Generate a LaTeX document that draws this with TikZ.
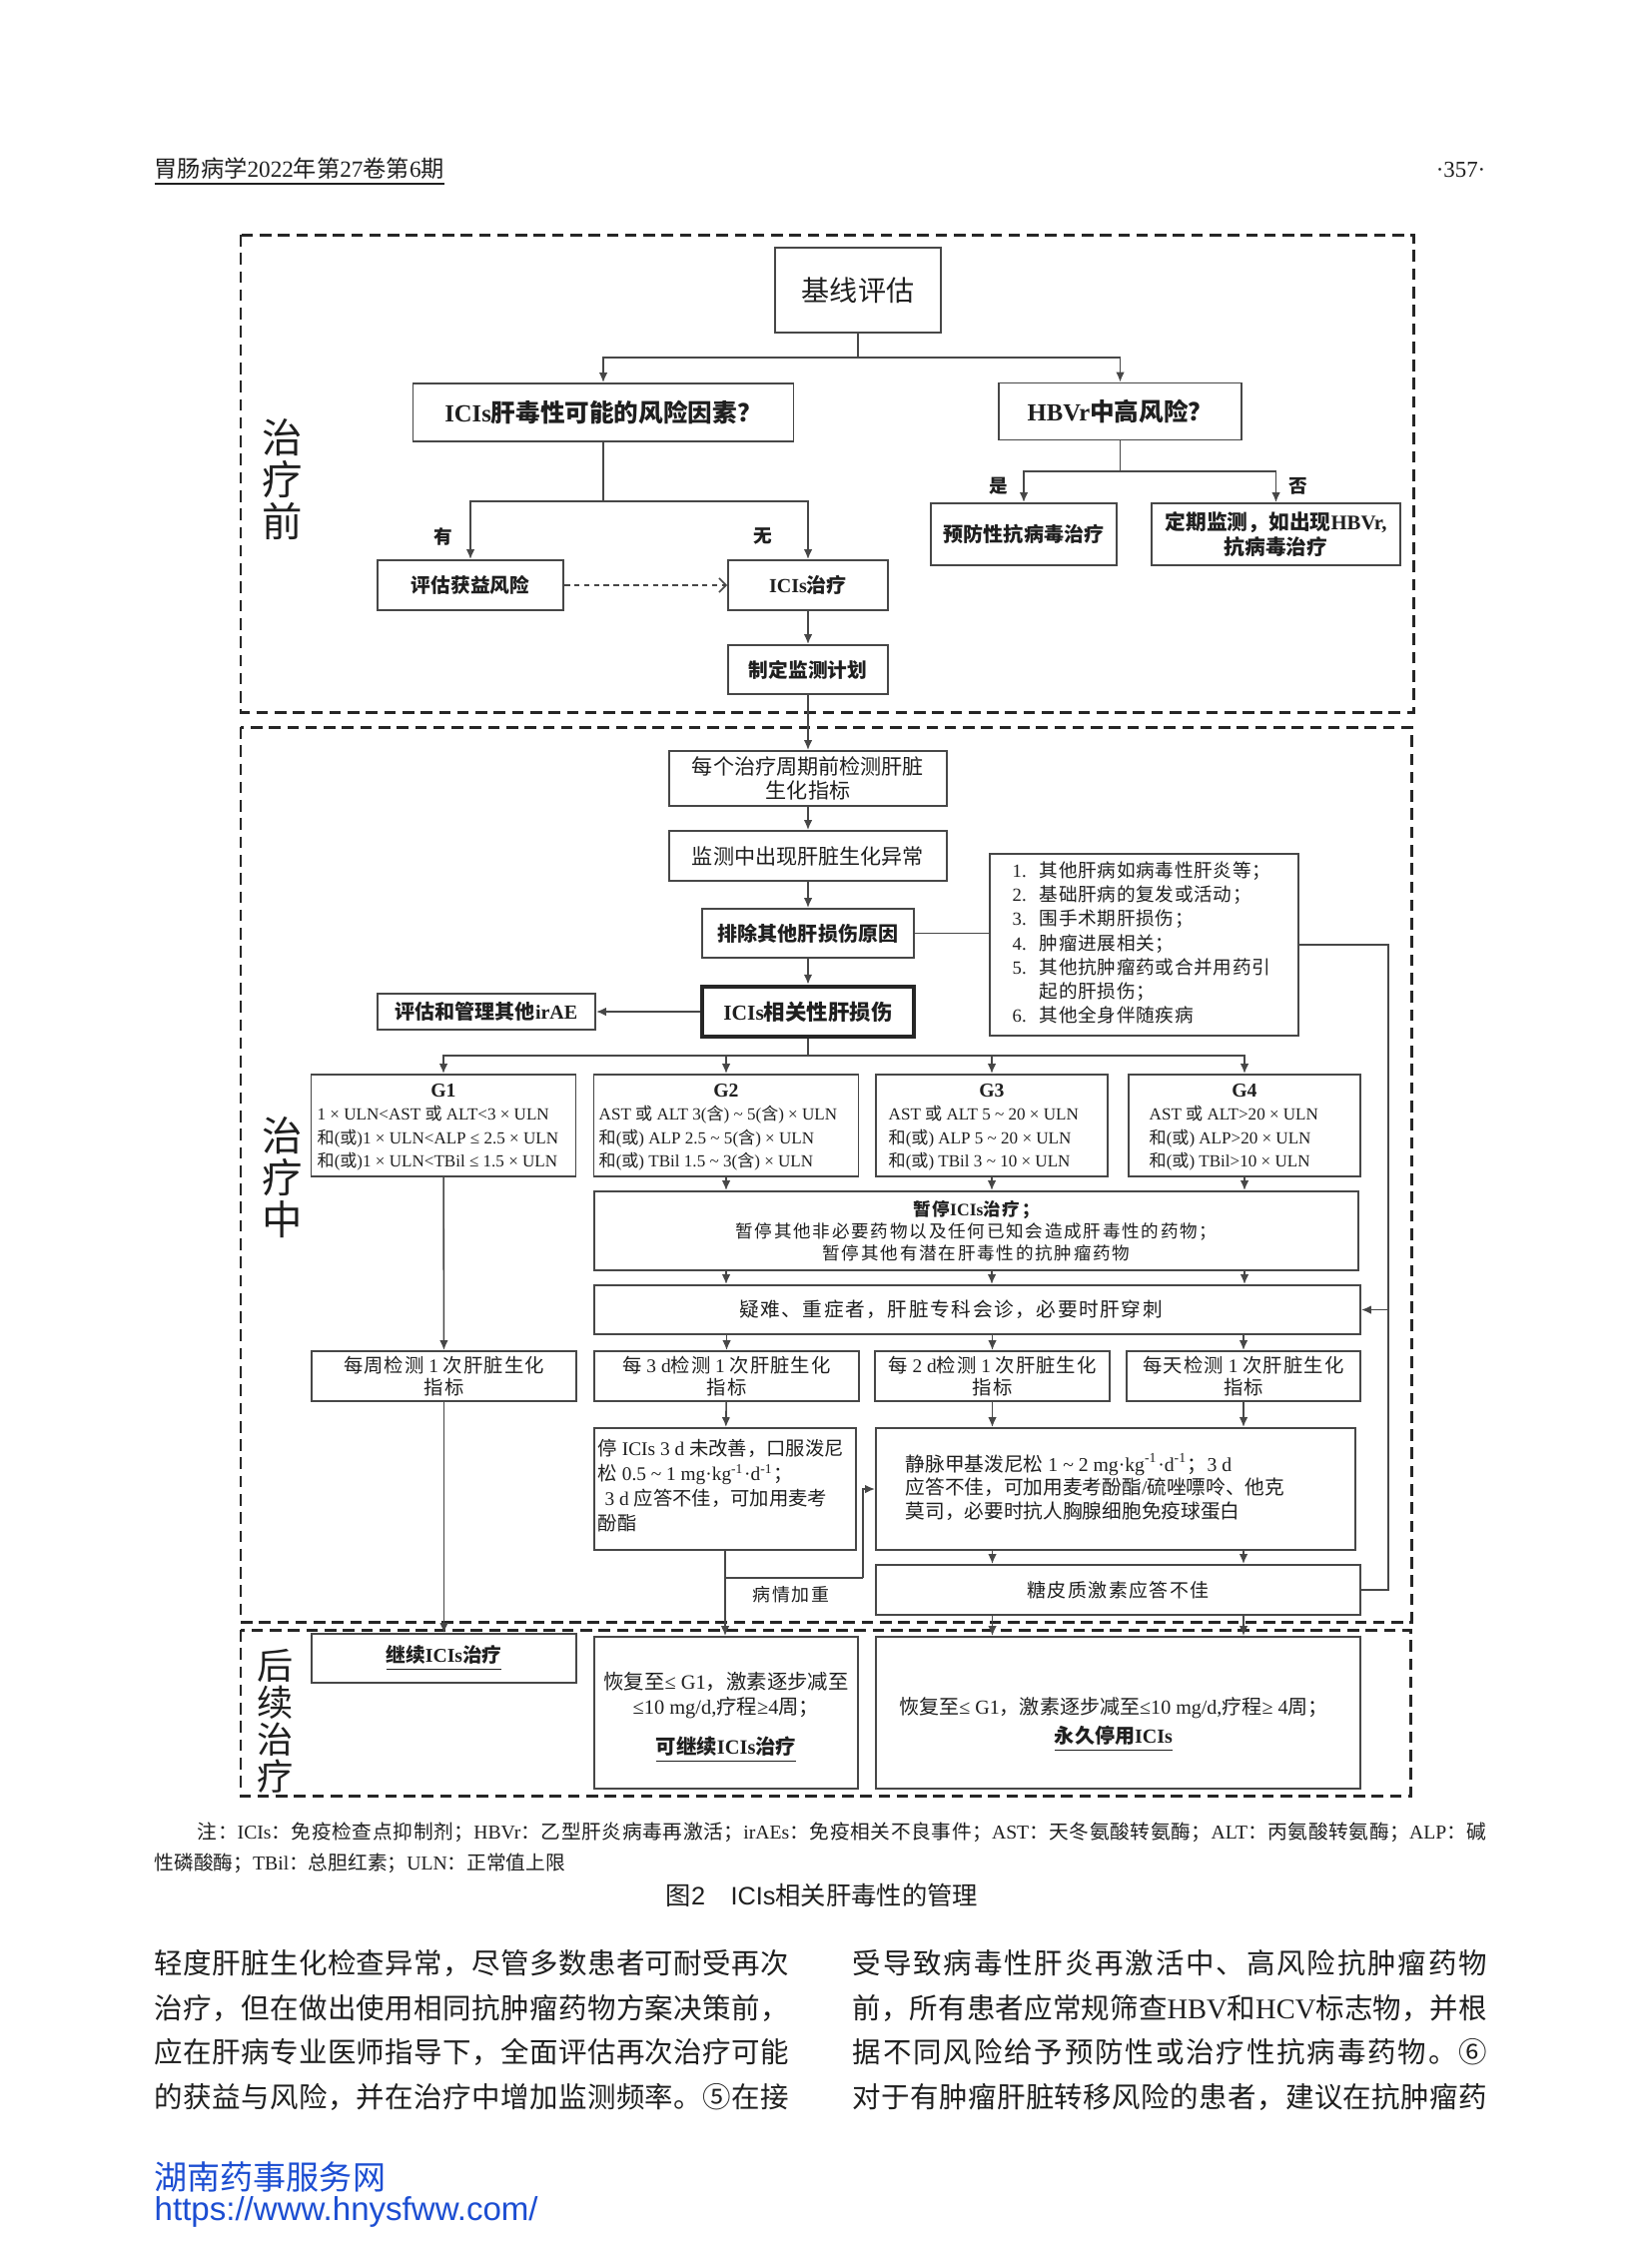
\documentclass[tikz,border=0pt]{standalone}
\usepackage{fontspec}
\setmainfont{Liberation Serif}
\setsansfont{Liberation Sans}
\newfontfamily\cjk{Noto Sans CJK SC}
\usetikzlibrary{arrows.meta,calc}

% Chinese characters get the CJK face, everything else stays Latin
\XeTeXinterchartokenstate=1
\newXeTeXintercharclass\cjkcls
\newcount\cjkc
\newcommand\cjkrange[2]{\cjkc=#1\relax
  \loop\XeTeXcharclass\cjkc=\cjkcls\relax
  \ifnum\cjkc<#2\advance\cjkc by 1\repeat}
\cjkrange{"2460}{"24FF}
\cjkrange{"3000}{"303F}
\cjkrange{"4E00}{"9FFF}
\cjkrange{"FF00}{"FFEF}
\def\latinfam{\rmfamily}
\def\cjkglue{}
\XeTeXinterchartoks 0 \cjkcls = {\cjk}
\XeTeXinterchartoks 4095 \cjkcls = {\cjk}
\XeTeXinterchartoks \cjkcls 0 = {\latinfam}
\XeTeXinterchartoks \cjkcls 4095 = {\latinfam}
\XeTeXinterchartoks \cjkcls \cjkcls = {\cjkglue}

\newcommand\fsz[2]{\fontsize{#1pt}{#2pt}\selectfont}
\newcommand\trk[1]{\def\cjkglue{\hskip#1pt}}
\newcommand\justify{\def\cjkglue{\hskip0pt plus 1pt}}
\newcommand\sanstext{\def\latinfam{\sffamily}\sffamily}
\newcommand\tld{\textasciitilde}
\newcommand\num[1]{\makebox[0.27cm][l]{#1}}

\definecolor{ink}{gray}{0.12}
\definecolor{edge}{gray}{0.28}
\definecolor{webblue}{RGB}{28,78,210}

\begin{document}
\begin{tikzpicture}[x=0.01cm, y=-0.01cm,
  every node/.style={text=ink, inner sep=0pt},
  box/.style={draw=edge, line width=0.55pt},
  sz/.style 2 args={minimum width=#1*0.01cm, minimum height=#2*0.01cm},
  ln/.style={draw=edge, line width=0.45pt},
  arr/.style={ln, -{Latex[length=2.8pt,width=2.4pt]}},
  darr/.style={ln, dash pattern=on 1.6pt off 1.2pt, -{Straight Barb[length=2pt,width=4pt]}},
  zone/.style={draw=black!85, line width=0.85pt, dash pattern=on 3.3pt off 1.9pt},
  zonelab/.style={font=\fsz{11.5}{12}, align=center},
  tag/.style={font=\bfseries\fsz{5.3}{6}},
  gtitle/.style={font=\bfseries\fsz{5.6}{6}},
  gbody/.style={anchor=west, align=left, font=\fsz{4.85}{6.7}},
  body/.style={anchor=west, font={\fsz{8.1}{10}\justify}}
  ]
  \fill[white] (0,0) rectangle (1654,2244);
  \useasboundingbox (0,0) rectangle (1654,2244);

  % page head
  \node[anchor=base west, font=\fsz{6.6}{8}] (journal) at (154,177) {\underline{胃肠病学2022年第27卷第6期}};
  \node[anchor=base east, font=\fsz{6.5}{8}] (page) at (1488,177) {·357·};

  % the three stages
  \draw[zone] (241,235) rectangle (1415,713);
  \draw[zone] (241,728) rectangle (1413,1624);
  \draw[zone] (241,1632) rectangle (1412,1798);
  \node[zonelab] (pre) at (283,480) {治\\疗\\前};
  \node[zonelab] (mid) at (283,1179) {治\\疗\\中};
  \node[zonelab, font=\fsz{10.3}{10.5}] (post) at (276,1723) {后\\续\\治\\疗};

  % before treatment
  \node[box, sz={166}{85}, font=\fsz{8}{9}] (base) at (859,290.5) {基线评估};
  \node[box, sz={381}{58}, font=\bfseries\fsz{7}{8}] (risk) at (604,413) {ICIs肝毒性可能的风险因素？};
  \node[box, sz={243}{57}, font=\bfseries\fsz{7}{8}] (hbvr) at (1121.5,412) {HBVr中高风险？};
  \node[box, sz={186}{62}, font=\bfseries\fsz{5.7}{6.6}] (prev) at (1025,535) {预防性抗病毒治疗};
  \node[box, sz={249}{62}, font=\bfseries\fsz{5.9}{7}, align=center] (mon) at (1277.5,535) {定期监测，如出现HBVr,\\抗病毒治疗};
  \node[box, sz={186}{50}, font=\bfseries\fsz{5.6}{6.6}] (assess) at (471,586) {评估获益风险};
  \node[box, sz={160}{50}, font=\bfseries\fsz{5.7}{6.6}] (icis) at (809,586) {ICIs治疗};
  \node[box, sz={160}{49}, font=\bfseries\fsz{5.6}{6.6}] (plan) at (809,670.5) {制定监测计划};
  \node[tag] (has) at (444,537) {有};
  \node[tag] (none) at (764,537) {无};
  \node[tag] (yes) at (1000,487) {是};
  \node[tag] (no) at (1300,487) {否};

  \coordinate (t1) at (859,358);
  \coordinate (t2) at (604,502);
  \coordinate (t3) at (1121.5,472);
  \draw[ln] (base.south) -- (t1);
  \draw[arr] (t1) -| (risk.north);
  \draw[arr] (t1) -| (hbvr.north);
  \draw[ln] (hbvr.south) -- (t3);
  \draw[arr] (t3) -| (prev.north);
  \draw[arr] (t3) -| (mon.north);
  \draw[ln] (risk.south) -- (t2);
  \draw[arr] (t2) -| (assess.north);
  \draw[arr] (t2) -| (icis.north);
  \draw[darr] (assess) -- (icis);
  \draw[arr] (icis) -- (plan);

  % during treatment
  \node[box, sz={278}{55}, font=\fsz{6}{7}, align=center] (cycle) at (809,779.5) {每个治疗周期前检测肝脏\\生化指标};
  \node[box, sz={278}{50}, font=\fsz{6}{7}] (abn) at (809,857) {监测中出现肝脏生化异常};
  \node[box, sz={212}{49}, font=\bfseries\fsz{5.7}{6.6}] (excl) at (809,934.5) {排除其他肝损伤原因};
  \node[box, draw=black!85, line width=1.3pt, sz={212}{50}, font=\bfseries\fsz{6.1}{7}] (inj) at (809,1013) {ICIs相关性肝损伤};
  \node[box, sz={218}{36}, font=\bfseries\fsz{5.7}{6.6}] (irae) at (487,1013) {评估和管理其他irAE};
  \node[box, sz={309}{182}] (causes) at (1145.5,946) {};
  \node[anchor=west, align=left, font={\fsz{5.3}{6.9}\trk{0.2}}] (causetxt) at (1013,944)
    {\num{1.}其他肝病如病毒性肝炎等；\\\num{2.}基础肝病的复发或活动；\\\num{3.}围手术期肝损伤；\\\num{4.}肿瘤进展相关；\\\num{5.}其他抗肿瘤药或合并用药引\\\num{}起的肝损伤；\\\num{6.}其他全身伴随疾病};

  \draw[arr] (plan) -- (cycle);
  \draw[arr] (cycle) -- (abn);
  \draw[arr] (abn) -- (excl);
  \draw[arr] (excl) -- (inj);
  \draw[arr] (inj) -- (irae);
  \draw[ln] (excl.east) -- (excl.east -| causes.west);

  % grades
  \node[box, sz={265}{102}] (g1) at (444,1127) {};
  \node[box, sz={265}{102}] (g2) at (727,1127) {};
  \node[box, sz={232}{102}] (g3) at (993,1127) {};
  \node[box, sz={232}{102}] (g4) at (1246,1127) {};
  \foreach \n in {1,...,4}
    \node[gtitle] (g\n t) at ($(g\n.north)+(0,17)$) {G\n};
  \node[gbody] (g1b) at (317,1140) {1 × ULN<AST 或 ALT<3 × ULN\\和(或)1 × ULN<ALP ≤ 2.5 × ULN\\和(或)1 × ULN<TBil ≤ 1.5 × ULN};
  \node[gbody] (g2b) at (599,1140) {AST 或 ALT 3(含) \tld{} 5(含) × ULN\\和(或) ALP 2.5 \tld{} 5(含) × ULN\\和(或) TBil 1.5 \tld{} 3(含) × ULN};
  \node[gbody] (g3b) at (889,1140) {AST 或 ALT 5 \tld{} 20 × ULN\\和(或) ALP 5 \tld{} 20 × ULN\\和(或) TBil 3 \tld{} 10 × ULN};
  \node[gbody] (g4b) at (1150,1140) {AST 或 ALT>20 × ULN\\和(或) ALP>20 × ULN\\和(或) TBil>10 × ULN};

  \coordinate (t4) at (809,1057);
  \draw[ln] (inj.south) -- (t4);
  \foreach \n in {1,...,4}
    \draw[arr] (t4) -| (g\n.north);

  \node[box, sz={765}{79}, font={\fsz{5}{6.3}\trk{0.5}}, align=center] (hold) at (977.5,1232.5)
    {\textbf{暂停ICIs治疗；}\\暂停其他非必要药物以及任何已知会造成肝毒性的药物；\\暂停其他有潜在肝毒性的抗肿瘤药物};
  \node[box, sz={767}{49}] (hard) at (978.5,1311.5) {};
  \node[font={\fsz{5.6}{6.6}\trk{0.45}}] (hardtxt) at (952,1311.5) {疑难、重症者，肝脏专科会诊，必要时肝穿刺};

  \node[box, sz={265}{50}, font={\fsz{5.5}{6.2}\trk{0.3}}, align=center] (wk) at (444.5,1378) {每周检测 1 次肝脏生化\\指标};
  \node[box, sz={265}{50}, font={\fsz{5.5}{6.2}\trk{0.3}}, align=center] (d3) at (727.5,1378) {每 3 d检测 1 次肝脏生化\\指标};
  \node[box, sz={235}{50}, font={\fsz{5.5}{6.2}\trk{0.3}}, align=center] (d2) at (993.5,1378) {每 2 d检测 1 次肝脏生化\\指标};
  \node[box, sz={234}{50}, font={\fsz{5.5}{6.2}\trk{0.3}}, align=center] (d1) at (1245,1378) {每天检测 1 次肝脏生化\\指标};

  \node[box, sz={262}{122}] (oral) at (726,1491) {};
  \node[anchor=west, align=left, font=\fsz{5.5}{7.1}] (oraltxt) at (598,1488)
    {停 ICIs 3 d 未改善，口服泼尼\\松 0.5 \tld{} 1 mg·kg\textsuperscript{-1}·d\textsuperscript{-1}；\\\hspace*{2pt}3 d 应答不佳，可加用麦考\\酚酯};
  \node[box, sz={480}{122}] (iv) at (1117,1491) {};
  \node[anchor=west, align=left, font=\fsz{5.6}{6.8}] (ivtxt) at (906,1489)
    {静脉甲基泼尼松 1 \tld{} 2 mg·kg\textsuperscript{-1}·d\textsuperscript{-1}；3 d\\应答不佳，可加用麦考酚酯/硫唑嘌呤、他克\\莫司，必要时抗人胸腺细胞免疫球蛋白};
  \node[box, sz={485}{50}, font={\fsz{5.4}{6.4}\trk{0.4}}] (poor) at (1119.5,1592) {糖皮质激素应答不佳};
  \node[font={\fsz{5.1}{6}\trk{0.5}}] (worse) at (792,1597) {病情加重};

  \foreach \n in {2,3,4} {
    \draw[arr] (g\n.south) -- (g\n |- hold.north);
    \draw[arr] (g\n |- hold.south) -- (g\n |- hard.north);
  }
  \draw[arr] (g1) -- (wk);
  \draw[arr] (d3 |- hard.south) -- (d3.north);
  \draw[arr] (d2 |- hard.south) -- (d2.north);
  \draw[arr] (d1 |- hard.south) -- (d1.north);
  \draw[arr] (d3) -- (oral);
  \draw[arr] (d2.south) -- (d2 |- iv.north);
  \draw[arr] (d1.south) -- (d1 |- iv.north);
  \draw[arr] (d2 |- iv.south) -- (d2 |- poor.north);
  \draw[arr] (d1 |- iv.south) -- (d1 |- poor.north);

  % back to the consultation box
  \coordinate (fb) at (1390,1592);
  \draw[ln] (causes.east) -| (fb) -- (poor.east);
  \draw[arr] (hard.east -| fb) -- (hard.east);

  % after treatment
  \node[box, sz={265}{49}, font=\bfseries\fsz{5.6}{6.6}] (cont) at (444.5,1660.5) {\underline{继续ICIs治疗}};
  \node[box, sz={264}{152}] (maycont) at (727,1715) {};
  \node[align=center, font=\fsz{5.8}{7.1}] (maytxt) at (727,1720)
    {恢复至≤ G1，激素逐步减至\\≤10 mg/d,疗程≥4周；\\[4.3pt]\textbf{\underline{可继续ICIs治疗}}};
  \node[box, sz={485}{152}] (stop) at (1119.5,1715) {};
  \node[align=center, font=\fsz{5.7}{8.2}] (stoptxt) at (1115,1727)
    {恢复至≤ G1，激素逐步减至≤10 mg/d,疗程≥ 4周；\\\textbf{\underline{永久停用ICIs}}};

  \coordinate (wb) at (726,1580);
  \coordinate (wc) at (864,1580);
  \draw[arr] (wk) -- (cont);
  \draw[arr] (oral.south) -- (oral.south |- maycont.north);
  \draw[ln] (wb) -- (wc);
  \draw[arr] (wc) |- (iv.west);
  \draw[arr] (d2 |- poor.south) -- (d2 |- stop.north);
  \draw[arr] (d1 |- poor.south) -- (d1 |- stop.north);

  % notes and caption
  \node[anchor=west, font={\fsz{5.6}{7}\justify}] (note1) at (197,1835)
    {\hbox to 12.9cm{注：ICIs：免疫检查点抑制剂；HBVr：乙型肝炎病毒再激活；irAEs：免疫相关不良事件；AST：天冬氨酸转氨酶；ALT：丙氨酸转氨酶；ALP：碱}};
  \node[anchor=west, font=\fsz{5.6}{7}] (note2) at (154,1866) {性磷酸酶；TBil：总胆红素；ULN：正常值上限};
  \node[font={\fsz{7.2}{8}\sanstext}] (cap) at (823,1898) {图2　ICIs相关肝毒性的管理};

  % running text
  \foreach \txt [count=\i] in {轻度肝脏生化检查异常，尽管多数患者可耐受再次,
      治疗，但在做出使用相同抗肿瘤药物方案决策前，,
      应在肝病专业医师指导下，全面评估再次治疗可能,
      的获益与风险，并在治疗中增加监测频率。⑤在接}
    \node[body] (left\i) at (154,{1966+44.5*(\i-1)}) {\hbox to 6.35cm{\txt}};
  \foreach \txt [count=\i] in {受导致病毒性肝炎再激活中、高风险抗肿瘤药物,
      前，所有患者应常规筛查HBV和HCV标志物，并根,
      据不同风险给予预防性或治疗性抗病毒药物。⑥,
      对于有肿瘤肝脏转移风险的患者，建议在抗肿瘤药}
    \node[body] (right\i) at (853,{1966+44.5*(\i-1)}) {\hbox to 6.35cm{\txt}};

  \node[anchor=west, text=webblue, font={\fsz{9.4}{11}\sanstext}] (site) at (154,2180) {湖南药事服务网};
  \node[anchor=west, text=webblue, font={\fsz{9.4}{11}\sanstext}] (url) at (154,2215) {https://www.hnysfww.com/};
\end{tikzpicture}
\end{document}
